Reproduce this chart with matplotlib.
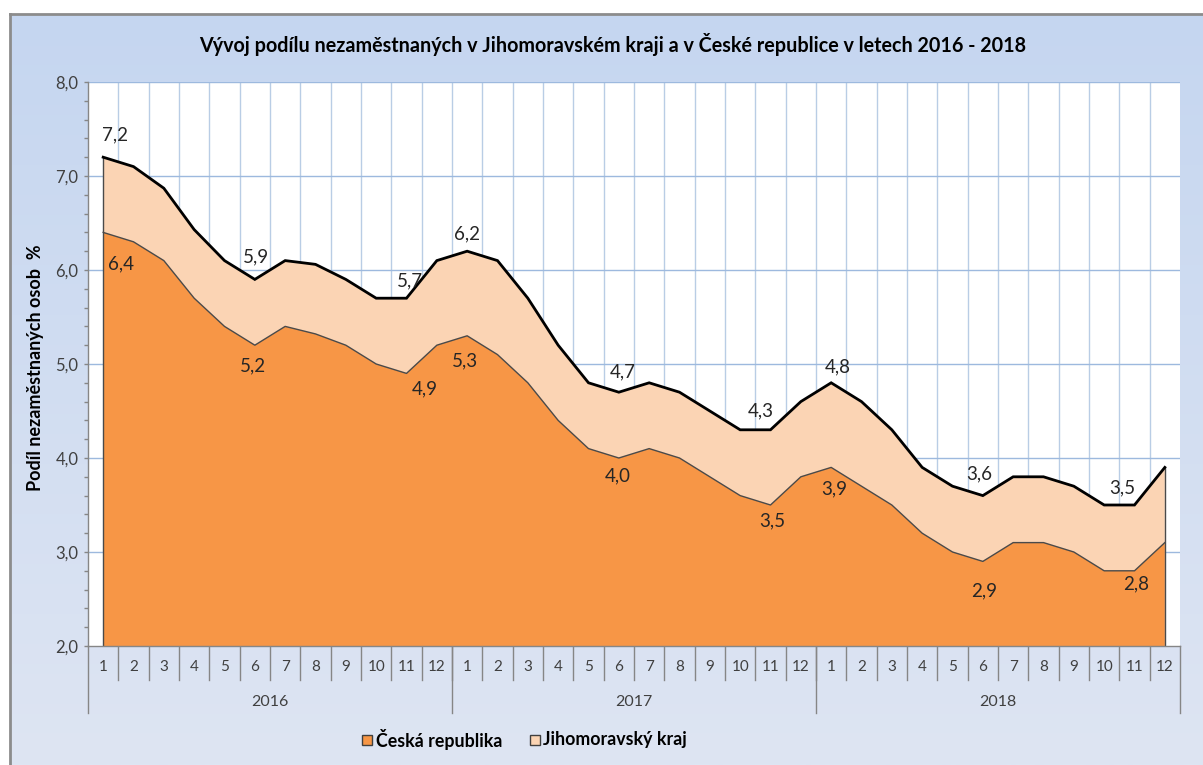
import numpy as np
import matplotlib
matplotlib.use("Agg")
import matplotlib.pyplot as plt
from matplotlib.lines import Line2D
from matplotlib.patches import Rectangle
from matplotlib.ticker import MultipleLocator, FuncFormatter

plt.rcParams['font.family'] = ['Lato', 'DejaVu Sans']

years = ['2016', '2017', '2018']
months = list(range(1, 13))

jmk = [7.2, 7.1, 6.87, 6.43, 6.1, 5.9, 6.1, 6.06, 5.9, 5.7, 5.7, 6.1,
       6.2, 6.1, 5.7, 5.2, 4.8, 4.7, 4.8, 4.7, 4.5, 4.3, 4.3, 4.6,
       4.8, 4.6, 4.3, 3.9, 3.7, 3.6, 3.8, 3.8, 3.7, 3.5, 3.5, 3.9]
cr = [6.4, 6.3, 6.1, 5.7, 5.4, 5.2, 5.4, 5.32, 5.2, 5.0, 4.9, 5.2,
      5.3, 5.1, 4.8, 4.4, 4.1, 4.0, 4.1, 4.0, 3.8, 3.6, 3.5, 3.8,
      3.9, 3.7, 3.5, 3.2, 3.0, 2.9, 3.1, 3.1, 3.0, 2.8, 2.8, 3.1]

labelled = [0, 5, 10, 12, 17, 22, 24, 29, 34]

# pixel offsets of the data labels (hand placed in the original)
jmk_off = {0: (12, 22), 5: (1, 23), 10: (3, 17), 12: (0, 17), 17: (4, 20),
           22: (-10, 19), 24: (7, 16), 29: (-4, 22), 34: (-12, 17)}
cr_off = {0: (18, -31), 5: (-2, -21), 10: (18, -15), 12: (-2, -25), 17: (-1, -18),
          22: (2, -16), 24: (3, -21), 29: (1, -29), 34: (2, -13)}

ORANGE = '#F79646'
PEACH = '#FBD4B4'
GRID = '#B9CDE5'
TXT = '#404040'

W, H = 1203, 765
fig = plt.figure(figsize=(W / 100, H / 100), dpi=100)
fig.patch.set_facecolor('white')

# chart area background with gradient
bg = fig.add_axes([10 / W, 0, 1 - 10 / W, (H - 14) / H])
grad = np.linspace(0, 1, 256)[:, None]
top = np.array([197, 214, 240]) / 255
bot = np.array([222, 229, 243]) / 255
img = top + (bot - top) * grad[:, :, None]
bg.imshow(img, aspect='auto', extent=[0, 1, 0, 1])
bg.set_xlim(0, 1)
bg.set_ylim(0, 1)
bg.set_xticks([])
bg.set_yticks([])
for s in ['right', 'bottom']:
    bg.spines[s].set_visible(False)
for s in ['left', 'top']:
    bg.spines[s].set_color('#8C8C8C')
    bg.spines[s].set_linewidth(2)

x0, x1, yb, yt = 88, 1180, 646, 82
ax = fig.add_axes([x0 / W, (H - yb) / H, (x1 - x0) / W, (yb - yt) / H])
ax.set_facecolor('white')
x = np.arange(len(jmk))
ax.set_xlim(-0.5, len(jmk) - 0.5)
ax.set_ylim(2, 8)

# grid
for b in np.arange(0.5, len(jmk) - 1, 1):
    ax.axvline(b, color=GRID, lw=1, zorder=1)
for v in range(3, 9):
    ax.axhline(v, color='#9DB9DE', lw=1, zorder=1)

ax.fill_between(x, 2, jmk, facecolor=PEACH, edgecolor='none', zorder=2)
ax.fill_between(x, 2, cr, facecolor=ORANGE, edgecolor='none', zorder=3)
ax.plot(x, cr, color='#4A4A4A', lw=1, zorder=4)
ax.plot(x, jmk, color='black', lw=2, zorder=5, solid_joinstyle='miter')
ax.vlines([x[0], x[-1]], 2, [jmk[0], jmk[-1]], color='#4A4A4A', lw=1, zorder=4)

for i in labelled:
    dx, dy = jmk_off[i]
    ax.annotate(f'{jmk[i]:.1f}'.replace('.', ','), (x[i], jmk[i]), xytext=(dx, dy),
                textcoords='offset pixels', ha='center', va='center',
                fontsize=13.5, color='#262626', zorder=6)
    dx, dy = cr_off[i]
    ax.annotate(f'{cr[i]:.1f}'.replace('.', ','), (x[i], cr[i]), xytext=(dx, dy),
                textcoords='offset pixels', ha='center', va='center',
                fontsize=13.5, color='#262626', zorder=6)

# axes styling
for s in ['top', 'right']:
    ax.spines[s].set_visible(False)
for s in ['left', 'bottom']:
    ax.spines[s].set_color('#868686')
    ax.spines[s].set_linewidth(1)
    ax.spines[s].set_zorder(7)
ax.yaxis.set_major_locator(MultipleLocator(1))
ax.yaxis.set_minor_locator(MultipleLocator(0.2))
ax.yaxis.set_major_formatter(FuncFormatter(lambda v, p: f'{v:.1f}'.replace('.', ',')))
ax.tick_params(axis='y', which='both', direction='out', color='#868686',
               labelcolor=TXT, labelsize=12, length=3, width=1, pad=4)
ax.set_xticks([])

# category axis: months and years
px = 1 / (yb - yt)
for k, m in enumerate(months * len(years)):
    ax.text(x[k], -21 * px, str(m), transform=ax.get_xaxis_transform(),
            ha='center', va='center', fontsize=11, color=TXT)
for b in np.arange(0.5, len(jmk) - 1, 1):
    ax.add_line(Line2D([b, b], [5 * px, -34 * px], transform=ax.get_xaxis_transform(),
                       color='#868686', lw=1, clip_on=False))
for j, yr in enumerate(years):
    ax.text(j * 12 + 5.5, -56 * px, yr, transform=ax.get_xaxis_transform(),
            ha='center', va='center', fontsize=11.5, color=TXT)
for b in np.arange(-0.5, len(jmk), 12):
    ax.add_line(Line2D([b, b], [0, -67 * px], transform=ax.get_xaxis_transform(),
                       color='#868686', lw=1, clip_on=False))

fig.text(613 / W, 1 - 44 / H,
         'Vývoj podílu nezaměstnaných v Jihomoravském kraji a v České republice v letech 2016 - 2018',
         ha='center', va='center', fontsize=14.2, fontweight='bold', color='black')
fig.text(36 / W, 1 - 368 / H, 'Podíl nezaměstnaných osob  %', rotation=90,
         ha='center', va='center', fontsize=13, fontweight='bold', color='black')

# legend
for sx, tx, col, name in [(362, 376, ORANGE, 'Česká republika'),
                          (530, 543, PEACH, 'Jihomoravský kraj')]:
    fig.patches.append(Rectangle((sx / W, 1 - 745 / H), 10 / W, 10 / H,
                                 transform=fig.transFigure, facecolor=col,
                                 edgecolor='#404040', lw=1))
    fig.text(tx / W, 1 - 740 / H, name, ha='left', va='center',
             fontsize=12.8, fontweight='bold', color='black')

fig.savefig('out.png', dpi=100, facecolor=fig.get_facecolor())
